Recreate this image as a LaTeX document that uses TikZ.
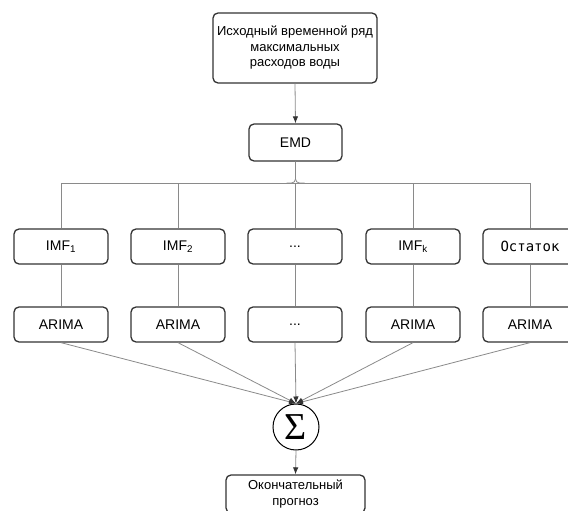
\documentclass[tikz,border=0pt]{standalone}
\usepackage{fontspec}
\setmainfont{Liberation Sans}
\newfontfamily\monofont{DejaVu Sans Mono}
\newfontfamily\sigmafont{Liberation Serif}
\usetikzlibrary{arrows.meta, positioning, calc}
\definecolor{boxline}{HTML}{333333}
\definecolor{wiregray}{HTML}{8A8A8A}

\tikzset{
  blok/.style={draw=boxline, line width=1.3pt, rounded corners=5pt, fill=white,
    align=center, inner sep=0pt, minimum width=94pt, minimum height=35pt,
    font=\fontsize{14}{16}\selectfont},
  wire/.style={draw=wiregray, line width=0.8pt},
  tip/.style={wire, -{Latex[length=7pt, width=5.5pt, color=boxline]}}
}

\begin{document}
\begin{tikzpicture}[x=1pt, y=-1pt]
        \useasboundingbox (0,0) rectangle (568,511);
        \clip (0,0) rectangle (568,511);

        % Source series and decomposition
        \node[blok, minimum width=164pt, minimum height=70pt, font=\fontsize{13}{15.5}\selectfont]
          (src) at (295,48) {Исходный временной ряд\\максимальных\\расходов воды};
        \node[blok, minimum width=93pt, minimum height=37pt] (emd) at (295.5,142.5) {EMD};
        \coordinate (busy) at (0,183);

        % Components and models
        \foreach \i/\x/\lbl/\mdl in {1/61/{IMF\textsubscript{1}}/ARIMA, 2/178/{IMF\textsubscript{2}}/ARIMA,
            3/295/{...}/{...}, 4/413/{IMF\textsubscript{k}}/ARIMA, 5/530/{\monofont Остаток}/ARIMA} {
          \node[blok] (imf\i) at (\x,246.5) {\lbl};
          \node[blok] (ar\i) at (\x,324.5) {\mdl};
        }

        % Sum and result
        \node[draw=black, circle, line width=1pt, minimum size=46pt, inner sep=0pt,
          font=\sigmafont\fontsize{38}{38}\selectfont] (sum) at (296,427) {Σ};
        \node[blok, minimum width=139pt, minimum height=38pt, font=\fontsize{13}{16}\selectfont]
          (res) at (295.5,494) {Окончательный\\прогноз};

        % Connectors
        \draw[tip] (src.south) -- (emd.north);
        \draw[wire] (imf1.north) |- (imf5.north |- busy) -- (imf5.north);
        \draw[wire, rounded corners=4pt] ($(emd.south |- busy)+(-9,0)$) -| (emd.south);
        \draw[wire, rounded corners=4pt] ($(emd.south |- busy)+(9,0)$) -| (emd.south);
        \foreach \i in {2,3,4}
          \draw[wire] (imf\i.north |- busy) -- (imf\i.north);
        \foreach \i in {1,...,5} {
          \draw[wire] (imf\i.south) -- (ar\i.north);
          \draw[tip] (ar\i.south) -- (sum.north);
        }
        \draw[tip] (sum.south) -- (res.north);

      \end{tikzpicture}
\end{document}
